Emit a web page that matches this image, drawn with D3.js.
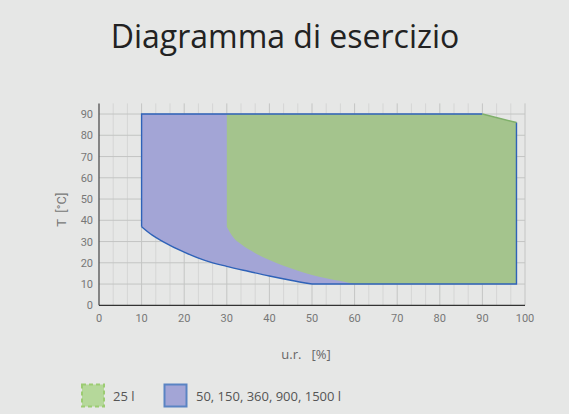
<!DOCTYPE html>
<html><head><meta charset="utf-8">
<script src="https://cdn.jsdelivr.net/npm/d3@7"></script>
<style>
html,body{margin:0;padding:0;background:#e6e7e6;}
svg{display:block;}
</style></head>
<body>
<svg id="c" width="569" height="414"></svg>
<script>
// ---- data ----
const xTicks = [0,10,20,30,40,50,60,70,80,90,100];
const yTicks = [0,10,20,30,40,50,60,70,80,90];
const seriesNames = ["25 l", "50, 150, 360, 900, 1500 l"];
// 50..1500 l operating area (u.r. %, T °C), outline order
const bigRH = [98, 98, 50, 45, 40, 35, 30, 25, 20, 15, 12.5, 10, 10, 90];
const bigT  = [86, 10, 10, 11.8, 13.8, 16, 18.3, 21, 25, 30, 33, 37, 90, 90];
// 25 l operating area
const smallRH = [30, 90, 98, 98, 60, 56.7, 53.3, 50, 46.7, 43.3, 40, 36.7, 33.3, 31.5, 30];
const smallT  = [90, 90, 86, 10, 10, 11.4, 12.7, 14.3, 16.3, 18.6, 21.3, 24.5, 28.8, 32, 37];

// ---- layout ----
const svg = d3.select("#c");
const W = 569, H = 414;
const x = d3.scaleLinear().domain([0,100]).range([99,525]);
const y = d3.scaleLinear().domain([0,95]).range([305.3,103.4]);

svg.append("rect").attr("width",W).attr("height",H).attr("fill","#e6e7e6");

svg.append("text").attr("x",285).attr("y",48).attr("text-anchor","middle")
  .attr("font-family","'Open Sans', sans-serif").attr("font-size",32)
  .attr("fill","#222").text("Diagramma di esercizio");

const g = svg.append("g");
// minor vertical grid
const minor = d3.range(0,100,10/3).filter(v=>Math.abs(v/10-Math.round(v/10))>0.01);
g.selectAll(".mv").data(minor).join("line")
  .attr("x1",d=>x(d)).attr("x2",d=>x(d)).attr("y1",y(95)).attr("y2",y(0))
  .attr("stroke","#d5d6d5").attr("stroke-width",1);
// major grid
g.selectAll(".gv").data(xTicks.slice(1)).join("line")
  .attr("x1",d=>x(d)).attr("x2",d=>x(d)).attr("y1",y(95)).attr("y2",y(0))
  .attr("stroke","#c4c5c4").attr("stroke-width",1);
g.selectAll(".gh").data(yTicks.slice(1)).join("line")
  .attr("x1",x(0)).attr("x2",x(100)).attr("y1",d=>y(d)).attr("y2",d=>y(d))
  .attr("stroke","#c4c5c4").attr("stroke-width",1);

const ptsBig = bigRH.map((v,i)=>[x(v),y(bigT[i])]);
const ptsSmall = smallRH.map((v,i)=>[x(v),y(smallT[i])]);
const line = d3.line().curve(d3.curveMonotoneX);
const poly = d3.line();

// blue fill
const rev = ptsBig.slice(2,12).slice().reverse();
const bigPath = poly([ptsBig[13],ptsBig[0],ptsBig[1],ptsBig[2]]) + line(ptsBig.slice(2,12)).replace(/^M[^LC]*/,"") + "L" + ptsBig[12].join(",") + "Z";
svg.append("path").attr("d",bigPath).attr("fill","#a3a5d6").attr("stroke","none");
// green fill
const smallPath = poly(ptsSmall.slice(0,5)) + line(ptsSmall.slice(4)).replace(/^M[^LC]*/,"") + "Z";
svg.append("path").attr("d",smallPath).attr("fill","#a4c48d").attr("stroke","none");
// blue outline (open)
const curveD = line(rev);
svg.append("path")
  .attr("d", poly([ptsBig[13],ptsBig[12],ptsBig[11]]) )
  .attr("fill","none").attr("stroke","#2e62b8").attr("stroke-width",1.4);
svg.append("path").attr("d",curveD).attr("fill","none").attr("stroke","#2e62b8").attr("stroke-width",1.4);
svg.append("path").attr("d",poly(ptsBig.slice(0,3))).attr("fill","none").attr("stroke","#2e62b8").attr("stroke-width",1.4);
// diagonal edge (green)
svg.append("path").attr("d",poly([ptsSmall[1],ptsSmall[2]])).attr("fill","none").attr("stroke","#7fb06a").attr("stroke-width",1.4);

// axes
svg.append("line").attr("x1",x(0)).attr("x2",x(0)).attr("y1",y(95)).attr("y2",y(0)).attr("stroke","#444").attr("stroke-width",1.2);
svg.append("line").attr("x1",x(0)).attr("x2",x(100)).attr("y1",y(0)).attr("y2",y(0)).attr("stroke","#333").attr("stroke-width",1.2);

const tf = "Roboto, sans-serif";
svg.selectAll(".xt").data(xTicks).join("text")
  .attr("x",d=>x(d)).attr("y",322).attr("text-anchor","middle")
  .attr("font-family",tf).attr("font-size",11).attr("fill","#777").text(d=>d);
svg.selectAll(".yt").data(yTicks).join("text")
  .attr("x",93).attr("y",d=>y(d)+4).attr("text-anchor","end")
  .attr("font-family",tf).attr("font-size",11).attr("fill","#777").text(d=>d);

svg.append("text").attr("transform","translate(66,"+y(45)+") rotate(-90)")
  .attr("text-anchor","middle").attr("font-family",tf).attr("font-size",13)
  .attr("fill","#777").attr("xml:space","preserve").text("T  [°C]");
svg.append("text").attr("x",306).attr("y",359).attr("text-anchor","middle")
  .attr("font-family","'Open Sans', sans-serif").attr("font-size",13)
  .attr("fill","#666").attr("xml:space","preserve").text("u.r.   [%]");

// legend
const lg = svg.append("g");
lg.append("rect").attr("x",82).attr("y",384.5).attr("width",22).attr("height",22)
  .attr("fill","#b5d89a").attr("stroke","#9ccc72").attr("stroke-width",2).attr("stroke-dasharray","4,3");
lg.append("text").attr("x",113).attr("y",401).attr("font-family","'Open Sans', sans-serif")
  .attr("font-size",13).attr("fill","#555").text(seriesNames[0]);
lg.append("rect").attr("x",164.5).attr("y",384.5).attr("width",22).attr("height",22)
  .attr("fill","#a3a5d6").attr("stroke","#5a84c3").attr("stroke-width",2);
lg.append("text").attr("x",196).attr("y",401).attr("font-family","'Open Sans', sans-serif")
  .attr("font-size",13).attr("fill","#555").text(seriesNames[1]);
</script>
</body></html>
